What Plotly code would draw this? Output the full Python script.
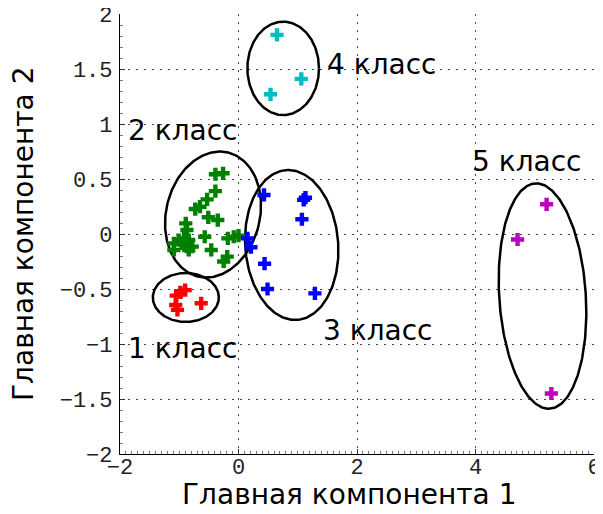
import numpy as np
import plotly.graph_objects as go

# ---- data ----
class1_x = [-0.90, -0.98, -1.05, -1.06, -1.03, -0.63]
class1_y = [-0.51, -0.53, -0.56, -0.645, -0.69, -0.63]

class2_x = [-0.39, -0.26, -0.39, -0.53, -0.65, -0.73, -0.51, -0.35, -0.89, -0.87,
            -1.09, -1.01, -0.92, -0.84, -0.87, -0.78, -1.09, -0.96, -0.84, -0.57,
            -0.46, -0.18, -0.08, 0.00, -0.19, -0.25]
class2_y = [0.543, 0.552, 0.39, 0.315, 0.248, 0.227, 0.152, 0.127, 0.097, 0.036,
            -0.085, -0.055, -0.04, -0.055, -0.115, -0.115, -0.145, -0.085, -0.145, -0.025,
            -0.145, -0.04, -0.025, -0.015, -0.206, -0.25]

class3_x = [0.43, 1.13, 1.10, 1.07, 0.15, 0.21, 0.44, 0.49, 1.29]
class3_y = [0.355, 0.33, 0.31, 0.134, -0.04, -0.12, -0.27, -0.50, -0.54]

class4_x = [0.65, 1.06, 0.54]
class4_y = [1.81, 1.41, 1.27]

class5_x = [5.20, 4.71, 5.28]
class5_y = [0.27, -0.05, -1.45]

class_names = ["1 класс", "2 класс", "3 класс", "4 класс", "5 класс"]
class_colors = ["#FF0000", "#008000", "#0000FF", "#00BFBF", "#BF00BF"]

# label anchor positions (data units)
label_x = [-0.95, -0.94, 2.35, 2.42, 4.86]
label_y = [-1.045, 0.945, -0.88, 1.54, 0.66]

# ellipses: center (data), semi-axes (px: horizontal b, vertical a), tilt deg (clockwise)
ell_cx = [-0.889, -0.430, 0.898, 0.754, 5.131]
ell_cy = [-0.577, 0.177, -0.100, 1.506, -0.564]
ell_b = [33.0, 46.9, 46.5, 35.8, 43.3]
ell_a = [24.5, 63.8, 75.1, 46.7, 112.9]
ell_tilt = [0.0, 13.7, -4.2, 0.0, -3.7]

x_range = [-2, 6]
y_range = [-2, 2]
x_ticks = [-2, 0, 2, 4, 6]
y_ticks = [-2, -1.5, -1, -0.5, 0, 0.5, 1, 1.5, 2]

# ---- layout geometry (page body has an 8px margin) ----
W, H = 595, 506
ML, MR, MT, MB = 112, 9, 6, 60
pw, ph = W - ML - MR, H - MT - MB
sx = pw / (x_range[1] - x_range[0])
sy = ph / (y_range[1] - y_range[0])

fig = go.Figure()

t = np.linspace(0, 2 * np.pi, 241)
for cx, cy, b, a, tilt in zip(ell_cx, ell_cy, ell_b, ell_a, ell_tilt):
    phi = np.deg2rad(tilt)
    u = b * np.cos(t)
    v = a * np.sin(t)
    xp = u * np.cos(phi) + v * np.sin(phi)
    yp = -u * np.sin(phi) + v * np.cos(phi)
    fig.add_trace(go.Scatter(x=cx + xp / sx, y=cy + yp / sy, mode="lines",
                             line=dict(color="black", width=2.5),
                             hoverinfo="skip", showlegend=False))

series = [(class1_x, class1_y), (class2_x, class2_y), (class3_x, class3_y),
          (class4_x, class4_y), (class5_x, class5_y)]
for (xs, ys), name, col in zip(series, class_names, class_colors):
    fig.add_trace(go.Scatter(x=xs, y=ys, mode="markers", name=name,
                             marker=dict(symbol="cross", size=11, color=col,
                                         line=dict(width=0)),
                             showlegend=False))

for name, lx, ly in zip(class_names, label_x, label_y):
    fig.add_annotation(x=lx, y=ly, text=name, showarrow=False,
                       font=dict(family="DejaVu Sans", size=28, color="black"),
                       xanchor="center", yanchor="middle")

fig.add_annotation(xref="paper", yref="paper", x=0.5, y=0, yshift=-40, xshift=-8,
                   text="Главная компонента 1", showarrow=False,
                   font=dict(family="DejaVu Sans", size=28, color="black"),
                   xanchor="center", yanchor="middle")
fig.add_annotation(xref="paper", yref="paper", x=0, y=0.5, xshift=-97,
                   text="Главная компонента 2", showarrow=False, textangle=-90,
                   font=dict(family="DejaVu Sans", size=28, color="black"),
                   xanchor="center", yanchor="middle")

axis_common = dict(showline=True, linecolor="black", linewidth=1.2, mirror=False,
                   showgrid=True, gridcolor="#444", gridwidth=1, griddash="2px,6px",
                   zeroline=False, ticks="inside", ticklen=5, tickcolor="#333",
                   automargin=False, ticklabeloverflow="allow",
                   tickfont=dict(family="Liberation Mono", size=22, color="#222"))

fig.update_xaxes(range=x_range, tickvals=x_ticks, ticklabelstandoff=-8, **axis_common,
                 minor=dict(dtick=0.1, ticks="inside", ticklen=3, tickcolor="#777",
                            showgrid=False))
fig.update_yaxes(range=y_range, tickvals=y_ticks, ticklabelstandoff=2, **axis_common,
                 minor=dict(dtick=0.1, ticks="inside", ticklen=3, tickcolor="#777",
                            showgrid=False))

fig.update_layout(width=W, height=H, margin=dict(l=ML, r=MR, t=MT, b=MB),
                  plot_bgcolor="white", paper_bgcolor="white")

fig.write_html("out.html")
